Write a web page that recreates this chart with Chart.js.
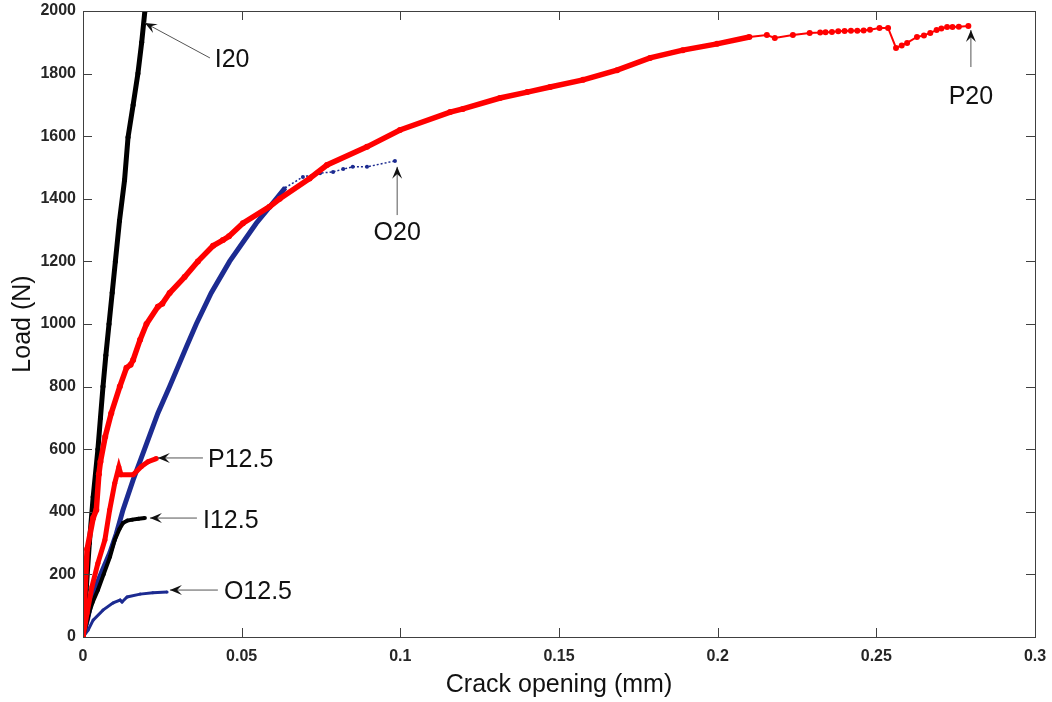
<!DOCTYPE html>
<html>
<head>
<meta charset="utf-8">
<script src="https://cdn.jsdelivr.net/npm/chart.js@4.4.1/dist/chart.umd.min.js"></script>
<style>
  html, body { margin: 0; padding: 0; background: #fff; }
  #wrap { width: 1052px; height: 702px; position: relative; }
</style>
</head>
<body>
<div id="wrap"><canvas id="myChart"></canvas></div>
<script>
// crack opening (mm) / load (N)
var i20X = [0, 0.001, 0.002, 0.0032, 0.0047, 0.0055, 0.0063, 0.0072, 0.0082, 0.0092, 0.0102, 0.0115, 0.0131, 0.0142, 0.0158, 0.0173, 0.0185, 0.0195];
var i20Y = [0, 150, 300, 447, 600, 700, 800, 900, 1000, 1100, 1200, 1330, 1460, 1597, 1700, 1800, 1900, 2000];

var i125X = [0, 0.001, 0.002, 0.003, 0.0047, 0.0065, 0.0085, 0.010, 0.0115, 0.0126, 0.014, 0.0155, 0.0175, 0.0195];
var i125Y = [0, 40, 80, 110, 150, 200, 256, 310, 345, 364, 372, 375, 378, 380];

var p20X = [0, 0.0005, 0.0013, 0.0032, 0.0042, 0.005, 0.0055, 0.007, 0.0089, 0.0116, 0.0137, 0.015, 0.0158, 0.018, 0.020, 0.0236, 0.025, 0.0273, 0.032, 0.0362, 0.041, 0.0441, 0.046, 0.0504, 0.0588, 0.062, 0.0714, 0.0769, 0.0895, 0.0999, 0.1157, 0.1197, 0.1314, 0.140, 0.1472, 0.1576, 0.1683, 0.1787, 0.189, 0.1998, 0.210, 0.2155, 0.218, 0.2237, 0.229, 0.2323, 0.234, 0.236, 0.238, 0.240, 0.242, 0.244, 0.246, 0.248, 0.251, 0.2537, 0.2562, 0.258, 0.2597, 0.2628, 0.265, 0.267, 0.269, 0.2705, 0.2723, 0.274, 0.276, 0.279];
var p20Y = [0, 120, 280, 380, 406, 520, 560, 640, 715, 800, 860, 870, 885, 950, 1000, 1055, 1065, 1099, 1150, 1200, 1250, 1268, 1280, 1322, 1375, 1400, 1465, 1508, 1566, 1620, 1677, 1687, 1722, 1741, 1757, 1780, 1811, 1850, 1875, 1895, 1917, 1923, 1914, 1923, 1930, 1931, 1932, 1933, 1935, 1936, 1937, 1937, 1938, 1940, 1946, 1946, 1882, 1890, 1898, 1917, 1922, 1930, 1939, 1944, 1949, 1949, 1950, 1952];

var p125X = [0, 0.0013, 0.0028, 0.0047, 0.0069, 0.0084, 0.010, 0.0113, 0.012, 0.0158, 0.0184, 0.0205, 0.0231];
var p125Y = [0, 77, 160, 236, 310, 406, 491, 543, 518, 518, 545, 560, 570];

var o20X = [0, 0.0015, 0.0032, 0.006, 0.0085, 0.0105, 0.0126, 0.0158, 0.0194, 0.0236, 0.0273, 0.0326, 0.0357, 0.0404, 0.0462, 0.0546, 0.0609, 0.0637, 0.0693, 0.0747, 0.0788, 0.082, 0.085, 0.0895, 0.0983];
var o20Y = [0, 60, 141, 210, 270, 330, 406, 502, 600, 715, 800, 927, 1000, 1099, 1200, 1322, 1400, 1435, 1470, 1482, 1486, 1495, 1502, 1502, 1521];

var o125X = [0, 0.0016, 0.0032, 0.0063, 0.0095, 0.0117, 0.0123, 0.0139, 0.018, 0.022, 0.0265];
var o125Y = [0, 22, 54, 86, 109, 118, 112, 128, 137, 141, 144];

var xTickValues = [0, 0.05, 0.1, 0.15, 0.2, 0.25, 0.3];
var xTickLabels = ["0", "0.05", "0.1", "0.15", "0.2", "0.25", "0.3"];
var yTickValues = [0, 200, 400, 600, 800, 1000, 1200, 1400, 1600, 1800, 2000];
var yTickLabels = ["0", "200", "400", "600", "800", "1000", "1200", "1400", "1600", "1800", "2000"];

// label text, text anchor (x, y), arrow tail (x, y), arrow tip (x, y) in data units
var notes = [
  ["I20", 0.0415, 1843, 0.040, 1850, 0.0195, 1962],
  ["P20", 0.2798, 1725, 0.2798, 1821, 0.2798, 1939],
  ["O20", 0.099, 1291, 0.099, 1348, 0.099, 1502],
  ["P12.5", 0.0394, 565, 0.0378, 572, 0.0236, 572],
  ["I12.5", 0.0378, 371, 0.0359, 380, 0.0211, 380],
  ["O12.5", 0.0444, 144, 0.0425, 150, 0.0274, 150]
];

function pts(xs, ys) {
  return xs.map(function (x, i) { return { x: x, y: ys[i] }; });
}

var RED = "#ff0000";
var BLUE = "#1c2b91";
var BLACK = "#000000";
var FONT = "'Liberation Sans', Arial, Helvetica, sans-serif";

var boxAndNotes = {
  id: "boxAndNotes",
  afterDraw: function (chart) {
    var ctx = chart.ctx;
    var a = chart.chartArea;
    var xs = chart.scales.x, ys = chart.scales.y;
    var tl = 9;
    ctx.save();
    ctx.strokeStyle = "#404040";
    ctx.lineWidth = 1;
    ctx.strokeRect(Math.round(a.left) + 0.5, Math.round(a.top) + 0.5, Math.round(a.right - a.left), Math.round(a.bottom - a.top));
    ctx.beginPath();
    xTickValues.forEach(function (v) {
      var px = Math.round(xs.getPixelForValue(v)) + 0.5;
      ctx.moveTo(px, a.bottom); ctx.lineTo(px, a.bottom - tl);
      ctx.moveTo(px, a.top); ctx.lineTo(px, a.top + tl);
    });
    yTickValues.forEach(function (v) {
      var py = Math.round(ys.getPixelForValue(v)) + 0.5;
      ctx.moveTo(a.left, py); ctx.lineTo(a.left + tl, py);
      ctx.moveTo(a.right, py); ctx.lineTo(a.right - tl, py);
    });
    ctx.stroke();

    ctx.font = "25px " + FONT;
    notes.forEach(function (n) {
      var tx = xs.getPixelForValue(n[1]), ty = ys.getPixelForValue(n[2]);
      var x0 = xs.getPixelForValue(n[3]), y0 = ys.getPixelForValue(n[4]);
      var x1 = xs.getPixelForValue(n[5]), y1 = ys.getPixelForValue(n[6]);
      var vertical = Math.abs(x1 - x0) < 1;
      ctx.fillStyle = "#111";
      ctx.textAlign = vertical ? "center" : "left";
      ctx.textBaseline = "middle";
      ctx.fillText(n[0], tx, ty);
      // arrow shaft
      ctx.strokeStyle = "#555";
      ctx.lineWidth = 1;
      ctx.beginPath();
      ctx.moveTo(x0, y0);
      ctx.lineTo(x1, y1);
      ctx.stroke();
      // arrow head
      var ang = Math.atan2(y1 - y0, x1 - x0);
      var len = 12, wid = 5;
      ctx.beginPath();
      ctx.moveTo(x1, y1);
      ctx.lineTo(x1 - len * Math.cos(ang) + wid * Math.sin(ang), y1 - len * Math.sin(ang) - wid * Math.cos(ang));
      ctx.lineTo(x1 - 0.6 * len * Math.cos(ang), y1 - 0.6 * len * Math.sin(ang));
      ctx.lineTo(x1 - len * Math.cos(ang) - wid * Math.sin(ang), y1 - len * Math.sin(ang) + wid * Math.cos(ang));
      ctx.closePath();
      ctx.fill();
    });
    ctx.restore();
  }
};

new Chart(document.getElementById("myChart"), {
  type: "scatter",
  data: {
    datasets: [
      {
        label: "P20",
        data: pts(p20X, p20Y),
        showLine: true,
        borderColor: RED,
        backgroundColor: RED,
        pointRadius: 3,
        pointBorderWidth: 0,
        borderWidth: 5.5,
        segment: {
          borderWidth: function (c) { return c.p0.parsed.x >= 0.2 ? 2 : 5.5; }
        }
      },
      {
        label: "P12.5",
        data: pts(p125X, p125Y),
        showLine: true,
        borderColor: RED,
        backgroundColor: RED,
        pointRadius: 2.5,
        pointBorderWidth: 0,
        borderWidth: 5
      },
      {
        label: "I20",
        data: pts(i20X, i20Y),
        showLine: true,
        borderColor: BLACK,
        backgroundColor: BLACK,
        pointRadius: 2.5,
        pointBorderWidth: 0,
        borderWidth: 5
      },
      {
        label: "I12.5",
        data: pts(i125X, i125Y),
        showLine: true,
        borderColor: BLACK,
        backgroundColor: BLACK,
        pointRadius: 2,
        pointBorderWidth: 0,
        borderWidth: 4
      },
      {
        label: "O20",
        data: pts(o20X, o20Y),
        showLine: true,
        borderColor: BLUE,
        backgroundColor: BLUE,
        pointRadius: function (c) { return c.raw && c.raw.x > 0.064 ? 2 : 1.5; },
        pointBorderWidth: 0,
        borderWidth: 5,
        segment: {
          borderWidth: function (c) { return c.p0.parsed.x >= 0.0637 ? 1.5 : 5; },
          borderDash: function (c) { return c.p0.parsed.x >= 0.0637 ? [2, 2] : undefined; }
        }
      },
      {
        label: "O12.5",
        data: pts(o125X, o125Y),
        showLine: true,
        borderColor: BLUE,
        backgroundColor: BLUE,
        pointRadius: 1.5,
        pointBorderWidth: 0,
        borderWidth: 3
      }
    ]
  },
  options: {
    responsive: true,
    maintainAspectRatio: false,
    animation: false,
    layout: { padding: { top: 11, right: 17, left: 0, bottom: 0 } },
    plugins: {
      legend: { display: false },
      tooltip: { enabled: false }
    },
    scales: {
      x: {
        type: "linear",
        min: 0,
        max: 0.3,
        grid: { display: false, drawTicks: false, tickLength: 0 },
        border: { display: false },
        afterBuildTicks: function (s) { s.ticks = xTickValues.map(function (v) { return { value: v }; }); },
        afterFit: function (s) {
          s.height = 65;
          s.paddingLeft = 0;
          s.paddingRight = 0;
        },
        ticks: {
          maxRotation: 0,
          autoSkip: false,
          padding: 10,
          color: "#262626",
          font: { family: FONT, size: 16, weight: "bold" },
          callback: function (v, i) { return xTickLabels[i]; }
        },
        title: {
          display: true,
          text: "Crack opening (mm)",
          color: "#111",
          font: { family: FONT, size: 25 },
          padding: { top: 0, bottom: 2 }
        }
      },
      y: {
        type: "linear",
        min: 0,
        max: 2000,
        grid: { display: false, drawTicks: false, tickLength: 0 },
        border: { display: false },
        afterBuildTicks: function (s) { s.ticks = yTickValues.map(function (v) { return { value: v }; }); },
        afterFit: function (s) {
          s.width = 83;
          s.paddingTop = 0;
          s.paddingBottom = 0;
        },
        ticks: {
          autoSkip: false,
          padding: 7,
          color: "#262626",
          font: { family: FONT, size: 16, weight: "bold" },
          callback: function (v, i) { return yTickLabels[i]; }
        },
        title: {
          display: true,
          text: "Load (N)",
          color: "#111",
          font: { family: FONT, size: 25 },
          padding: { top: 8, bottom: 0 }
        }
      }
    }
  },
  plugins: [boxAndNotes]
});
</script>
</body>
</html>
